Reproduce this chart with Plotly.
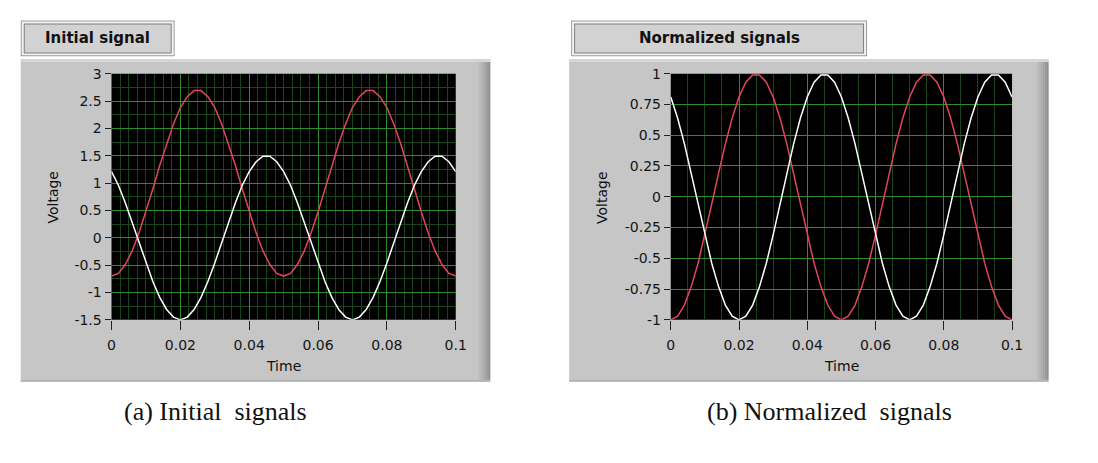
import plotly.graph_objects as go

# ---------------- data ----------------
time = [round(0.002 * k, 3) for k in range(51)]

red_cycle_a = [-0.65, -0.49, -0.24, 0.09, 0.47, 0.89, 1.32, 1.72, 2.08, 2.38, 2.58, 2.69,
               2.69, 2.58, 2.38, 2.08, 1.72, 1.32, 0.89, 0.47, 0.09, -0.24, -0.49, -0.65, -0.70]
initial_red = [-0.70] + red_cycle_a + red_cycle_a

white_cycle_a = [0.96, 0.64, 0.28, -0.09, -0.46, -0.80, -1.09, -1.31, -1.45, -1.50, -1.45, -1.31,
                 -1.09, -0.80, -0.46, -0.09, 0.28, 0.64, 0.96, 1.21, 1.39, 1.49, 1.49, 1.39, 1.21]
initial_white = [1.21] + white_cycle_a + white_cycle_a

red_cycle_b = [-0.97, -0.88, -0.73, -0.54, -0.31, -0.06, 0.19, 0.43, 0.64, 0.81, 0.93, 0.99,
               0.99, 0.93, 0.81, 0.64, 0.43, 0.19, -0.06, -0.31, -0.54, -0.73, -0.88, -0.97, -1.00]
norm_red = [-1.00] + red_cycle_b + red_cycle_b

white_cycle_b = [0.64, 0.43, 0.19, -0.06, -0.31, -0.54, -0.73, -0.88, -0.97, -1.00, -0.97, -0.88,
                 -0.73, -0.54, -0.31, -0.06, 0.19, 0.43, 0.64, 0.81, 0.93, 0.99, 0.99, 0.93, 0.81]
norm_white = [0.81] + white_cycle_b + white_cycle_b

x_ticks = [0, 0.02, 0.04, 0.06, 0.08, 0.1]
x_tick_labels = ["0", "0.02", "0.04", "0.06", "0.08", "0.1"]
y_ticks_a = [3, 2.5, 2, 1.5, 1, 0.5, 0, -0.5, -1, -1.5]
y_tick_labels_a = ["3", "2.5", "2", "1.5", "1", "0.5", "0", "-0.5", "-1", "-1.5"]
y_ticks_b = [1, 0.75, 0.5, 0.25, 0, -0.25, -0.5, -0.75, -1]
y_tick_labels_b = ["1", "0.75", "0.5", "0.25", "0", "-0.25", "-0.5", "-0.75", "-1"]

panel_titles = ["Initial signal", "Normalized signals"]
captions = ["(a) Initial&nbsp; signals", "(b) Normalized&nbsp; signals"]
x_title = "Time"
y_title = "Voltage"

# ---------------- layout helpers ----------------
W, H = 1098, 463
def px(x):
    return x / W
def py(y):
    return 1 - y / H

RED = "#e2465a"
WHITE = "#ffffff"
GRID_MAJOR = "#2e8e2e"
GRID_MINOR = "#1a441a"
SANS = "DejaVu Sans, Verdana, sans-serif"
TICKFONT = dict(family=SANS, size=14, color="#151515")

fig = go.Figure()
fig.add_trace(go.Scatter(x=time, y=initial_red, mode="lines", line=dict(color=RED, width=1.5),
                         xaxis="x", yaxis="y", showlegend=False))
fig.add_trace(go.Scatter(x=time, y=initial_white, mode="lines", line=dict(color=WHITE, width=1.5),
                         xaxis="x", yaxis="y", showlegend=False))
fig.add_trace(go.Scatter(x=time, y=norm_red, mode="lines", line=dict(color=RED, width=1.5),
                         xaxis="x2", yaxis="y2", showlegend=False))
fig.add_trace(go.Scatter(x=time, y=norm_white, mode="lines", line=dict(color=WHITE, width=1.5),
                         xaxis="x2", yaxis="y2", showlegend=False))

def xaxis_cfg(domain, anchor, minor_dtick):
    return dict(domain=domain, anchor=anchor, range=[0, 0.1], tickvals=x_ticks,
                ticktext=x_tick_labels, ticks="outside", ticklen=9, tickcolor="#202020",
                tickwidth=1, tickfont=TICKFONT, ticklabelstandoff=3, showgrid=True,
                gridcolor=GRID_MAJOR, gridwidth=1, zeroline=False, showline=False,
                minor=dict(dtick=minor_dtick, tick0=0, showgrid=True, gridcolor=GRID_MINOR,
                           gridwidth=1, ticks=""))

def yaxis_cfg(domain, anchor, rng, vals, labels, minor_dtick, minor_grid):
    return dict(domain=domain, anchor=anchor, range=rng, tickvals=vals, ticktext=labels,
                ticks="outside", ticklen=6, tickcolor="#202020", tickwidth=1,
                tickfont=TICKFONT, showgrid=True, gridcolor=GRID_MAJOR, gridwidth=1,
                zeroline=False, showline=False,
                minor=dict(dtick=minor_dtick, tick0=0, showgrid=minor_grid, gridcolor=GRID_MINOR,
                           gridwidth=1, ticks=""))

PA = (109, 458)
PB = (676, 1022)
PY = (68, 323)
ydom = [py(PY[1]), py(PY[0])]
fig.update_layout(
    width=W, height=H, margin=dict(l=0, r=0, t=0, b=0),
    paper_bgcolor="white", plot_bgcolor="black",
    xaxis=xaxis_cfg([px(PA[0]), px(PA[1])], "y", 0.0025),
    yaxis=yaxis_cfg(ydom, "x", [-1.5, 3], y_ticks_a, y_tick_labels_a, 0.25, True),
    xaxis2=xaxis_cfg([px(PB[0]), px(PB[1])], "y2", 0.005),
    yaxis2=yaxis_cfg(ydom, "x2", [-1, 1], y_ticks_b, y_tick_labels_b, 0.125, False),
)

shapes = []
def rect(x0, y0, x1, y1, fill):
    shapes.append(dict(type="rect", xref="paper", yref="paper", x0=px(x0), x1=px(x1),
                       y0=py(y1), y1=py(y0), fillcolor=fill,
                       line=dict(width=0), layer="below"))

def frame(x0, x1, y0, y1):
    rect(x0, y0, x1, y1, "#c6c6c6")
    rect(x0, y0, x1, y0 + 3, "#d6d6d6")
    rect(x0, y1 - 2, x1, y1, "#b4b4b4")
    greys = ["#bdbdbd", "#b5b5b5", "#adadad", "#a4a4a4", "#9a9a9a", "#8e8e8e"]
    w = 2
    for i, g in enumerate(greys):
        rect(x1 - (len(greys) - i) * w, y0 + 3, x1 - (len(greys) - i - 1) * w, y1 - 2, g)

def title_box(x0, x1, y0, y1):
    rect(x0, y0, x1, y1, "#9a9a9a")
    rect(x0 + 1, y0 + 1, x1 - 1, y1 - 1, "#f4f4f4")
    rect(x0 + 3, y0 + 3, x1 - 3, y1 - 3, "#7c7c7c")
    rect(x0 + 4, y0 + 4, x1 - 4, y1 - 4, "#d2d2d2")

frame(17, 493, 53, 387)
frame(573, 1059, 53, 387)
title_box(17, 173, 13, 50)
title_box(575, 875, 13, 50)
rect(PA[0], PY[0], PA[1], PY[1], "black")
rect(PB[0], PY[0], PB[1], PY[1], "black")

annotations = []
def text(x, y, s, size, family, color="#111", bold=False, angle=0):
    annotations.append(dict(xref="paper", yref="paper", x=px(x), y=py(y), text=(f"<b>{s}</b>" if bold else s),
                            showarrow=False, xanchor="center", yanchor="middle", textangle=angle,
                            font=dict(family=family, size=size, color=color)))

text(95, 31, panel_titles[0], 15, SANS, bold=True)
text(725, 31, panel_titles[1], 15, SANS, bold=True)
text((PA[0] + PA[1]) / 2, 371, x_title, 14, SANS)
text((PB[0] + PB[1]) / 2, 371, x_title, 14, SANS)
text(50, 196, y_title, 14, SANS, angle=-90)
text(607, 196, y_title, 14, SANS, angle=-90)
text(214, 418, captions[0], 26, "Liberation Serif, DejaVu Serif, serif")
text(837, 418, captions[1], 26, "Liberation Serif, DejaVu Serif, serif")

fig.update_layout(shapes=shapes, annotations=annotations)
fig.write_html("out.html")
